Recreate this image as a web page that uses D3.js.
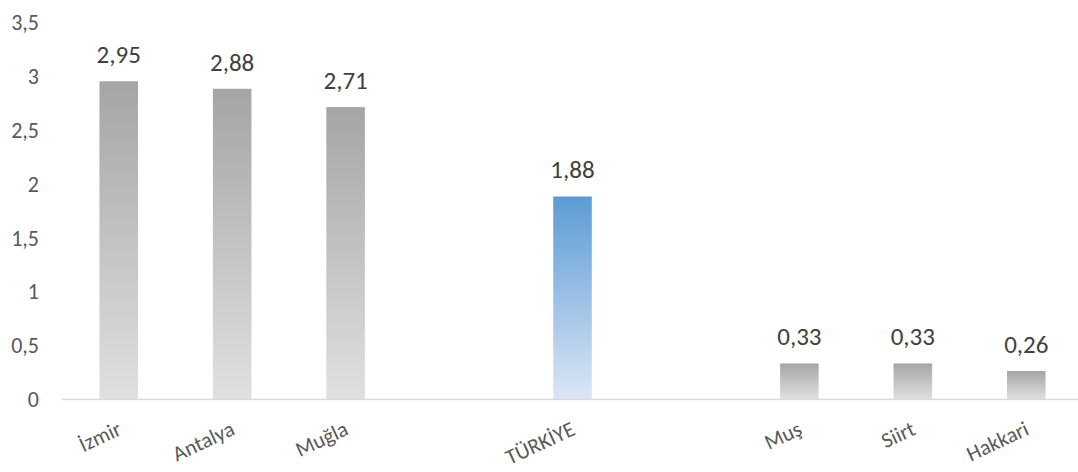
<!DOCTYPE html>
<html>
<head>
<meta charset="utf-8">
<script src="https://cdn.jsdelivr.net/npm/d3@7/dist/d3.min.js"></script>
<style>
  html, body { margin: 0; padding: 0; background: #ffffff; }
  svg { display: block; }
  text { font-family: Calibri, Carlito, "Open Sans", sans-serif; }
</style>
</head>
<body>
<svg id="chart" width="1078" height="472"></svg>
<script>
// Slots along the category axis (empty slots separate the groups)
const categories = ["İzmir", "Antalya", "Muğla", "gap1", "TÜRKİYE", "gap2", "Muş", "Siirt", "Hakkari"];
const labels     = ["İzmir", "Antalya", "Muğla", "", "TÜRKİYE", "", "Muş", "Siirt", "Hakkari"];
const values     = [2.95, 2.88, 2.71, null, 1.88, null, 0.33, 0.33, 0.26];
const highlight  = [false, false, false, false, true, false, false, false, false];
const yTicks     = [0, 0.5, 1, 1.5, 2, 2.5, 3, 3.5];

const svg = d3.select("#chart");
const fmt = v => String(v).replace(".", ",");

const x = d3.scaleBand()
  .domain(categories)
  .range([62, 1083])
  .paddingInner(0.66)
  .paddingOuter(0.33);

const y = d3.scaleLinear().domain([0, 3.5]).range([399, 22]);

// Gradients for the two bar styles
const defs = svg.append("defs");
const gGray = defs.append("linearGradient").attr("id", "gradGray")
  .attr("x1", 0).attr("y1", 0).attr("x2", 0).attr("y2", 1);
gGray.append("stop").attr("offset", "0%").attr("stop-color", "#a5a5a5");
gGray.append("stop").attr("offset", "100%").attr("stop-color", "#e0e0e0");
const gBlue = defs.append("linearGradient").attr("id", "gradBlue")
  .attr("x1", 0).attr("y1", 0).attr("x2", 0).attr("y2", 1);
gBlue.append("stop").attr("offset", "0%").attr("stop-color", "#5b9bd5");
gBlue.append("stop").attr("offset", "100%").attr("stop-color", "#dbe6f5");

// Y axis labels (no axis line, no gridlines)
const yAxis = d3.axisLeft(y).tickValues(yTicks).tickFormat(fmt).tickSize(0).tickPadding(0);
svg.append("g")
  .attr("transform", "translate(39,0)")
  .call(yAxis)
  .call(g => g.select(".domain").remove())
  .call(g => g.selectAll("text")
    .attr("fill", "#595959")
    .style("font-size", "22px")
    .attr("dy", "0.35em"));

// Bars
const data = categories.map((c, i) => ({ c, label: labels[i], v: values[i], hi: highlight[i] }));
const bars = data.filter(d => d.v !== null);

svg.append("g").selectAll("rect")
  .data(bars)
  .join("rect")
  .attr("x", d => x(d.c))
  .attr("width", x.bandwidth())
  .attr("y", d => y(d.v))
  .attr("height", d => y(0) - y(d.v))
  .attr("fill", d => d.hi ? "url(#gradBlue)" : "url(#gradGray)");

// Baseline
svg.append("line")
  .attr("x1", 62).attr("x2", 1078)
  .attr("y1", y(0) + 0.5).attr("y2", y(0) + 0.5)
  .attr("stroke", "#d9d9d9").attr("stroke-width", 1.5);

// Value labels
svg.append("g").selectAll("text")
  .data(bars)
  .join("text")
  .attr("x", d => x(d.c) + x.bandwidth() / 2)
  .attr("y", d => y(d.v) - 18)
  .attr("text-anchor", "middle")
  .attr("fill", "#404040")
  .style("font-size", "25px")
  .text(d => fmt(d.v));

// Rotated category labels
svg.append("g").selectAll("text")
  .data(data.filter(d => d.label))
  .join("text")
  .attr("transform", d => `translate(${x(d.c) + x.bandwidth() / 2 + 4},${434}) rotate(-25)`)
  .attr("text-anchor", "end")
  .attr("fill", "#595959")
  .style("font-size", "21.5px")
  .text(d => d.label);
</script>
</body>
</html>
